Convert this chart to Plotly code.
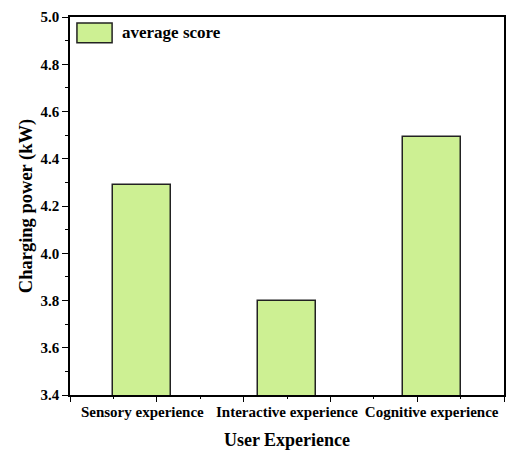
import plotly.graph_objects as go

categories = ["Sensory experience", "Interactive experience", "Cognitive experience"]
scores = [4.29, 3.80, 4.49]
series_name = "average score"
y_ticks = [3.4, 3.6, 3.8, 4.0, 4.2, 4.4, 4.6, 4.8, 5.0]
x_major_ticks = [0.5, 1.1, 1.7, 2.3, 2.9, 3.5]
x_minor_ticks = [0.8, 1.4, 2.0, 2.6, 3.2]

FONT = "Liberation Serif"
bar_color = "#CDF093"
edge = "#222222"

fig = go.Figure()
fig.add_trace(go.Bar(
    x=[1, 2, 3], y=scores, name=series_name, width=0.4,
    marker=dict(color=bar_color, line=dict(color=edge, width=1.5)),
    showlegend=False,
))
# empty helper trace so the tick-only overlay axis is drawn
fig.add_trace(go.Scatter(x=[None], y=[None], xaxis="x2", yaxis="y",
                         mode="markers", showlegend=False, hoverinfo="skip"))

fig.update_layout(
    width=506, height=458,
    margin=dict(l=70, r=2, t=17, b=63),
    plot_bgcolor="white", paper_bgcolor="white",
    font=dict(family=FONT, color="black"),
    bargap=0,
    xaxis=dict(
        automargin=False,
        range=[0.5, 3.5], tickmode="array", tickvals=[1, 2, 3],
        ticktext=[f"<b>{c}</b>" for c in categories],
        tickfont=dict(size=15, family=FONT),
        showline=True, linecolor="black", linewidth=1.5, mirror=True,
        ticks="outside", ticklen=2, tickcolor="rgba(0,0,0,0)",
        showgrid=False, zeroline=False,
        title=dict(text="<b>User Experience</b>", font=dict(size=18, family=FONT), standoff=15),
    ),
    xaxis2=dict(
        automargin=False, overlaying="x", anchor="y", side="bottom",
        range=[0.5, 3.5], tickmode="array", tickvals=x_major_ticks,
        showticklabels=False, showline=False,
        ticks="outside", ticklen=6, tickwidth=1.2, tickcolor="black",
        minor=dict(tickvals=x_minor_ticks, ticks="outside", ticklen=3, tickwidth=1.2, tickcolor="black"),
        showgrid=False, zeroline=False,
    ),
    yaxis=dict(
        automargin=False,
        range=[3.4, 5.0], tickmode="array", tickvals=y_ticks,
        ticktext=[f"<b>{v:.1f}</b>" for v in y_ticks],
        tickfont=dict(size=15, family=FONT),
        showline=True, linecolor="black", linewidth=1.5, mirror=True,
        ticks="outside", ticklen=6, tickwidth=1.2, tickcolor="black",
        minor=dict(dtick=0.1, ticks="outside", ticklen=3, tickwidth=1.2, tickcolor="black"),
        showgrid=False, zeroline=False,
        title=dict(text="<b>Charging power (kW)</b>", font=dict(size=18.5, family=FONT), standoff=3),
    ),
)

# legend drawn manually (wide swatch like the reference)
fig.add_shape(type="rect", xref="paper", yref="paper",
              x0=0.016, x1=0.097, y0=0.932, y1=0.984,
              fillcolor=bar_color, line=dict(color=edge, width=1.5))
fig.add_annotation(xref="paper", yref="paper", x=0.116, y=0.959,
                   text=f"<b>{series_name}</b>", showarrow=False,
                   xanchor="left", yanchor="middle",
                   font=dict(size=17, family=FONT))

fig.write_html("out.html", config={"displayModeBar": False},
               post_script="document.body.style.margin='0';document.body.style.overflow='hidden';")
